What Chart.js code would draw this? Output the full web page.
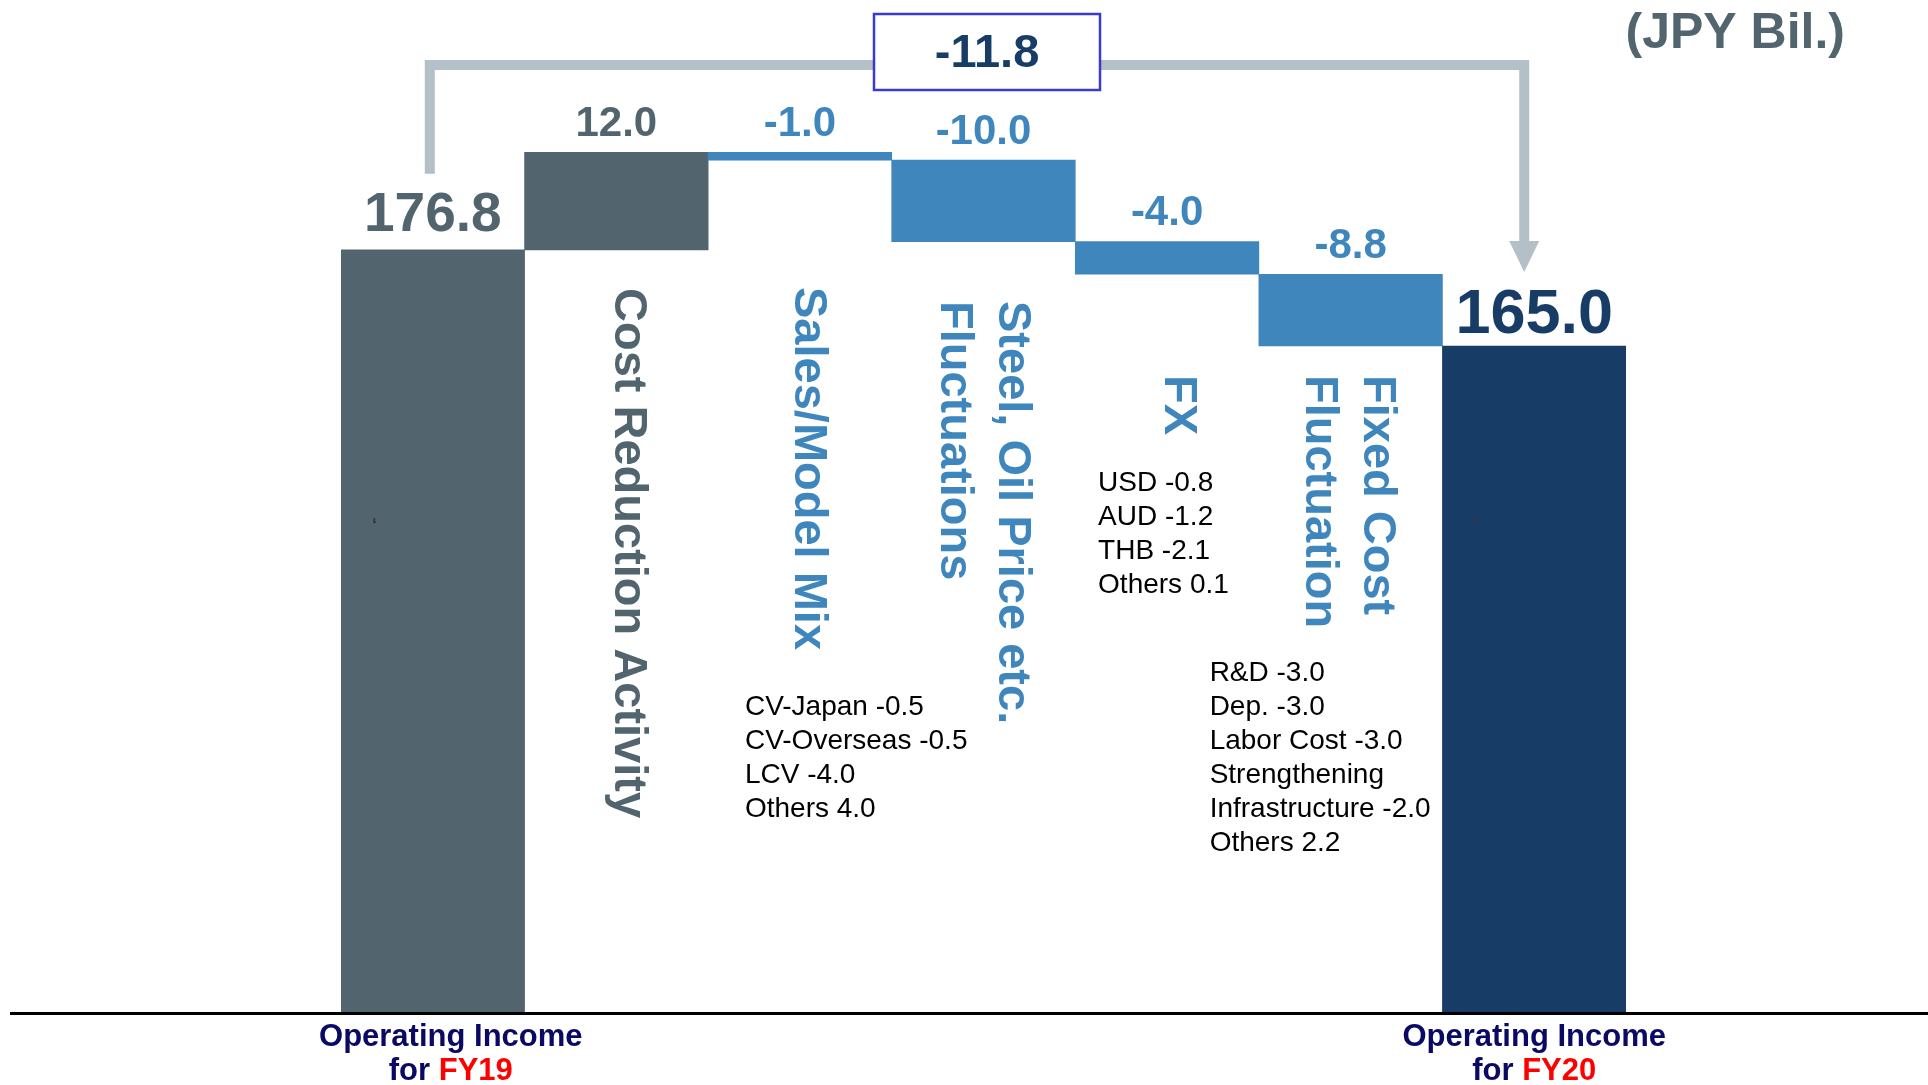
<!DOCTYPE html>
<html>
<head>
<meta charset="utf-8">
<title>Operating Income FY19 to FY20</title>
<script src="https://cdn.jsdelivr.net/npm/chart.js@4.4.1/dist/chart.umd.min.js"></script>
<style>
  html, body { margin: 0; padding: 0; background: #ffffff; }
  #wrap { width: 1928px; height: 1085px; }
</style>
</head>
<body>
<div id="wrap"><canvas id="bridge" width="1928" height="1085"></canvas></div>
<script>
const categories = ['Operating Income for FY19', 'Cost Reduction Activity', 'Sales/Model Mix',
  'Steel, Oil Price etc. Fluctuations', 'FX', 'Fixed Cost Fluctuation', 'Operating Income for FY20'];
const startValue = 176.8;
const endValue = 165.0;
const changes = [12.0, -1.0, -10.0, -4.0, -8.8];

// rotated names of the change steps, first line drawn on the right
const stepNames = [
  ['Cost Reduction Activity'],
  ['Sales/Model Mix'],
  ['Steel, Oil Price etc.', 'Fluctuations'],
  ['FX'],
  ['Fixed Cost', 'Fluctuation']
];

// breakdowns written under some steps
const mixNotes = [['CV-Japan', -0.5], ['CV-Overseas', -0.5], ['LCV', -4.0], ['Others', 4.0]];
const fxNotes = [['USD', -0.8], ['AUD', -1.2], ['THB', -2.1], ['Others', 0.1]];
const fixedNotes = [['R&D', -3.0], ['Dep.', -3.0], ['Labor Cost', -3.0],
  ['Strengthening\nInfrastructure', -2.0], ['Others', 2.2]];

const unitLabel = '(JPY Bil.)';

const GRAY = '#52656e';
const BLUE = '#3f86bd';
const NAVY = '#173d66';
const FONT = '"Liberation Sans", Arial, sans-serif';

// floating bars: totals from zero, changes from running level
const bars = [[0, startValue]];
let level = startValue;
changes.forEach(c => {
  bars.push([level, level + c]);
  level += c;
});
bars.push([0, endValue]);
const colors = [GRAY].concat(changes.map(c => c > 0 ? GRAY : BLUE), [NAVY]);
const topLevel = Math.max(...bars.map(b => Math.max(b[0], b[1])));

// linear scale with a break: values up to breakValue share the lower part,
// values above it are stretched over the rest
class BrokenLinearScale extends Chart.LinearScale {
  getPixelForValue(value) {
    const bv = this.options.breakValue, ratio = this.options.breakRatio;
    const yb = this.bottom - (this.bottom - this.top) * ratio;
    if (value <= bv) {
      return this.bottom - (value - this.min) / (bv - this.min) * (this.bottom - yb);
    }
    return yb - (value - bv) / (this.max - bv) * (yb - this.top);
  }
  getValueForPixel(pixel) {
    const bv = this.options.breakValue, ratio = this.options.breakRatio;
    const yb = this.bottom - (this.bottom - this.top) * ratio;
    if (pixel >= yb) {
      return this.min + (this.bottom - pixel) / (this.bottom - yb) * (bv - this.min);
    }
    return bv + (yb - pixel) / (yb - this.top) * (this.max - bv);
  }
}
BrokenLinearScale.id = 'brokenLinear';
BrokenLinearScale.defaults = Chart.LinearScale.defaults;
Chart.register(BrokenLinearScale);

const fmt = v => v.toFixed(1);

function drawText(ctx, text, x, y, font, color, align) {
  ctx.font = font;
  ctx.fillStyle = color;
  ctx.textAlign = align || 'center';
  ctx.textBaseline = 'middle';
  ctx.fillText(text, x, y);
}

function drawNotes(ctx, notes, x, y) {
  const lines = [];
  notes.forEach(([name, v]) => {
    const parts = name.split('\n');
    parts.forEach((p, i) => lines.push(i === parts.length - 1 ? p + ' ' + fmt(v) : p));
  });
  lines.forEach((t, i) => drawText(ctx, t, x, y + i * 34, '28px ' + FONT, '#000000', 'left'));
}

const baseLine = {
  id: 'baseLine',
  beforeDatasetsDraw(chart) {
    const ctx = chart.ctx;
    const y = chart.scales.y.getPixelForValue(0) + 1.5;
    ctx.save();
    ctx.strokeStyle = '#000000';
    ctx.lineWidth = 3;
    ctx.beginPath();
    ctx.moveTo(10, y);
    ctx.lineTo(chart.width, y);
    ctx.stroke();
    ctx.restore();
  }
};

const annotations = {
  id: 'annotations',
  afterDatasetsDraw(chart) {
    const ctx = chart.ctx;
    const meta = chart.getDatasetMeta(0);
    const xs = chart.scales.x, ys = chart.scales.y;
    const last = bars.length - 1;
    ctx.save();

    // value labels
    bars.forEach((b, i) => {
      const el = meta.data[i];
      const top = Math.min(el.y, el.base);
      if (i === 0) {
        drawText(ctx, fmt(startValue), el.x, top - 34, 'bold 55px ' + FONT, GRAY);
      } else if (i === last) {
        drawText(ctx, fmt(endValue), el.x, top - 30, 'bold 63px ' + FONT, NAVY);
      } else {
        drawText(ctx, fmt(changes[i - 1]), el.x, top - 28, 'bold 42px ' + FONT, colors[i]);
      }
    });

    // rotated step names
    const nameTops = [288, 287, 301, 375, 375];
    const nameShift = [12, 8, -1, 11, -3];
    stepNames.forEach((lines, k) => {
      const cx = xs.getPixelForValue(k + 1) + nameShift[k];
      lines.forEach((t, j) => {
        const lx = cx + ((lines.length - 1) / 2 - j) * 58;
        ctx.save();
        ctx.translate(lx, nameTops[k]);
        ctx.rotate(Math.PI / 2);
        drawText(ctx, t, 0, 0, 'bold 47px ' + FONT, colors[k + 1], 'left');
        ctx.restore();
      });
    });

    // breakdown notes
    drawNotes(ctx, mixNotes, xs.getPixelForValue(2) - 55, 707);
    drawNotes(ctx, fxNotes, xs.getPixelForValue(4) - 69, 483);
    drawNotes(ctx, fixedNotes, xs.getPixelForValue(5) - 141, 673);

    // category names under the totals
    [0, last].forEach(i => {
      const cx = xs.getPixelForValue(i) + (i === 0 ? 18 : 0);
      const fy = i === 0 ? 'FY19' : 'FY20';
      drawText(ctx, 'Operating Income', cx, 1037, 'bold 31px ' + FONT, '#0a0a64');
      ctx.font = 'bold 31px ' + FONT;
      const w1 = ctx.measureText('for ').width, w2 = ctx.measureText(fy).width;
      const sx = cx - (w1 + w2) / 2;
      drawText(ctx, 'for ', sx, 1071, 'bold 31px ' + FONT, '#0a0a64', 'left');
      drawText(ctx, fy, sx + w1, 1071, 'bold 31px ' + FONT, '#ff0000', 'left');
    });

    // small marks inside the total bars
    [0, last].forEach(i => {
      const el = meta.data[i];
      drawText(ctx, '\u2018', el.x - el.width / 2 + 31, 526, 'bold 18px ' + FONT, '#3a3434', 'left');
    });

    // bracket from FY19 to FY20 with the total change
    const xl = xs.getPixelForValue(0) - 3;
    const xr = xs.getPixelForValue(last) - 10;
    const yTop = 65;
    const tipY = ys.getPixelForValue(endValue) - 74;
    ctx.strokeStyle = '#b4c0c8';
    ctx.fillStyle = '#b4c0c8';
    ctx.lineWidth = 10;
    ctx.lineJoin = 'miter';
    ctx.beginPath();
    ctx.moveTo(xl, ys.getPixelForValue(startValue) - 76);
    ctx.lineTo(xl, yTop);
    ctx.lineTo(xr, yTop);
    ctx.lineTo(xr, tipY - 28);
    ctx.stroke();
    ctx.beginPath();
    ctx.moveTo(xr - 15, tipY - 31);
    ctx.lineTo(xr + 15, tipY - 31);
    ctx.lineTo(xr, tipY);
    ctx.closePath();
    ctx.fill();

    const bx = (xl + xr) / 2 + 10;
    ctx.fillStyle = '#ffffff';
    ctx.fillRect(bx - 113, 14, 226, 76);
    ctx.strokeStyle = '#3a3ad0';
    ctx.lineWidth = 2.5;
    ctx.strokeRect(bx - 113, 14, 226, 76);
    drawText(ctx, fmt(endValue - startValue), bx, 54, 'bold 47px ' + FONT, NAVY);

    drawText(ctx, unitLabel, 1845, 34, 'bold 50px ' + FONT, GRAY, 'right');
    ctx.restore();
  }
};

new Chart(document.getElementById('bridge'), {
  type: 'bar',
  data: {
    labels: categories,
    datasets: [{
      data: bars,
      backgroundColor: colors,
      borderWidth: 0,
      barPercentage: 1,
      categoryPercentage: 1
    }]
  },
  options: {
    responsive: false,
    animation: false,
    layout: { padding: { left: 341, right: 302, top: 152, bottom: 73 } },
    plugins: { legend: { display: false }, tooltip: { enabled: false } },
    scales: {
      x: { display: false, grid: { display: false } },
      y: {
        type: 'brokenLinear',
        display: false,
        min: 0,
        max: topLevel,
        breakValue: endValue,
        breakRatio: 0.7744
      }
    }
  },
  plugins: [baseLine, annotations]
});
</script>
</body>
</html>
